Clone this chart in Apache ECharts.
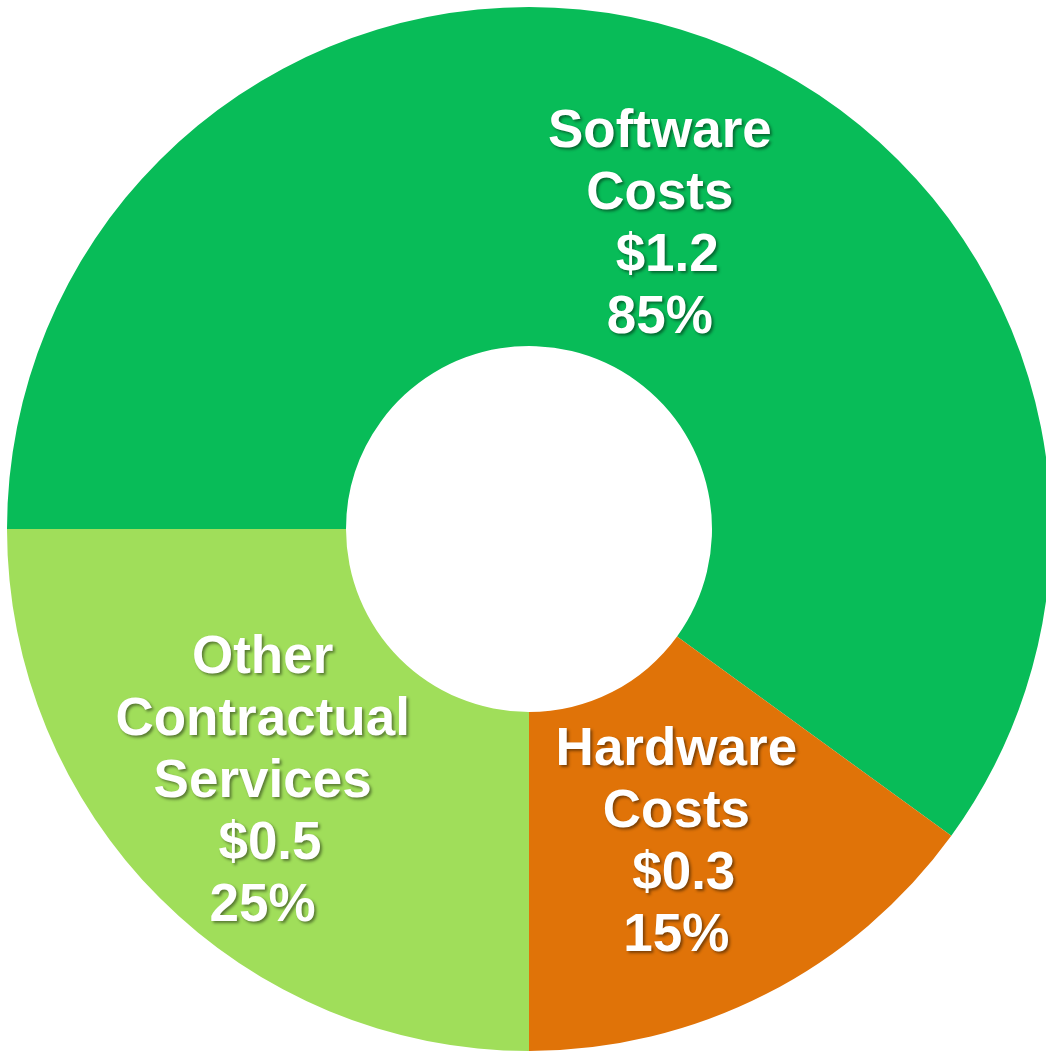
<!DOCTYPE html>
<html>
<head>
<meta charset="utf-8">
<script src="https://cdn.jsdelivr.net/npm/echarts@6/dist/echarts.min.js"></script>
<style>
html,body{margin:0;padding:0;background:#fff;}
#chart{width:1046px;height:1052px;}
</style>
</head>
<body>
<div id="chart"></div>
<script>
const categories = ["Software\nCosts", "Hardware\nCosts", "Other\nContractual\nServices"];
const values = [1.2, 0.3, 0.5];
const percentLabels = ["85%", "15%", "25%"];
const colors = ["#08BC58", "#E07308", "#A0DE5A"];
const labelShift = [[21, 34], [-14, -2], [-15, 2]];

const chart = echarts.init(document.getElementById('chart'), null, {renderer: 'canvas'});
chart.setOption({
  backgroundColor: '#ffffff',
  animation: false,
  series: [{
    type: 'pie',
    center: [529, 529],
    radius: [183, 522],
    startAngle: 180,
    clockwise: true,
    avoidLabelOverlap: false,
    itemStyle: {borderWidth: 0},
    label: {
      show: true,
      position: 'inside',
      color: '#ffffff',
      fontFamily: '"Liberation Sans", Arial, sans-serif',
      fontWeight: 'bold',
      fontSize: 53,
      lineHeight: 62,
      align: 'center',
      textShadowColor: 'rgba(0,0,0,0.45)',
      textShadowBlur: 3,
      textShadowOffsetX: 2,
      textShadowOffsetY: 2,
      formatter: function (p) {
        return p.name + '\n $' + p.value.toFixed(1) + '\n' + percentLabels[p.dataIndex];
      }
    },
    labelLine: {show: false},
    labelLayout: function (params) {
      const s = labelShift[params.dataIndex];
      return {dx: s[0], dy: s[1]};
    },
    data: categories.map(function (c, i) {
      return {name: c, value: values[i], itemStyle: {color: colors[i]}};
    })
  }]
});
</script>
</body>
</html>
